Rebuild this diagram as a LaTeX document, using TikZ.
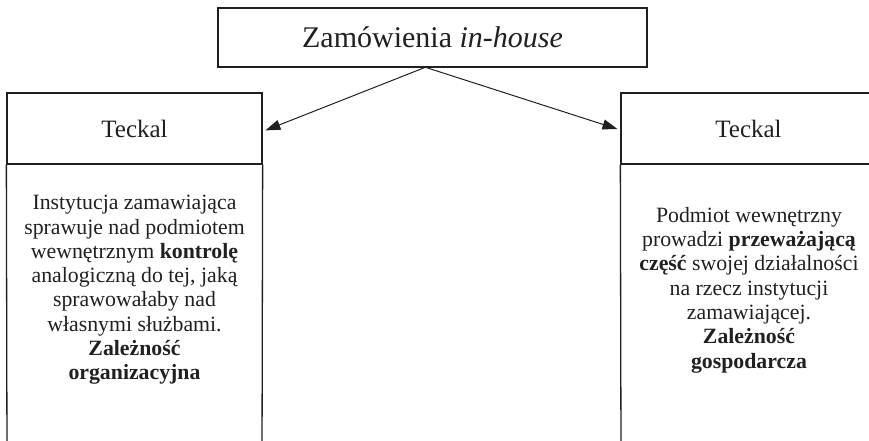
\documentclass[tikz,border=0pt]{standalone}
\usepackage{fontspec}
\setmainfont{Liberation Serif}
\usetikzlibrary{arrows.meta,calc}
\definecolor{ink}{HTML}{231F20}
\begin{document}
\begin{tikzpicture}[x=1pt,y=-1pt,
  boxline/.style={draw=ink,line width=1.3pt},
  topbox/.style={boxline,rectangle,minimum width=429pt,minimum height=59pt,inner sep=0pt,
    font=\fontsize{30}{34}\selectfont,text=ink},
  headbox/.style={boxline,rectangle,minimum width=255pt,minimum height=71pt,inner sep=0pt,
    font=\fontsize{25}{29}\selectfont,text=ink},
  bodytext/.style={align=center,inner sep=0pt,text=ink,
    font=\fontsize{21.8}{24.3}\selectfont},
  arrowline/.style={draw=ink,line width=1pt,-{Triangle[length=15pt,width=10pt]}}]
\useasboundingbox (0,0) rectangle (869,441);
\clip (0,0) rectangle (869,441);
\fill[white] (0,0) rectangle (869,441);

\node[topbox] (top) at (432.5,37.5) {Zamówienia \textit{in-house}};

\node[headbox] (lhead) at (134.5,128.5) {Teckal};
\node[headbox] (rhead) at (748.5,128.5) {Teckal};

\coordinate (lbot1) at (7,460);
\coordinate (lbot2) at (262,460);
\coordinate (rbot1) at (621,460);
\coordinate (rbot2) at (876,460);
\draw[boxline] (lhead.south west) -- (lbot1);
\draw[boxline] (lhead.south east) -- (lbot2);
\draw[boxline] (rhead.south west) -- (rbot1);
\draw[boxline] (rhead.south east) -- (rbot2);

\node[bodytext] (ltext) at (134.5,290) {Instytucja zamawiająca\\
sprawuje nad podmiotem\\
wewnętrznym \textbf{kontrolę}\\
analogiczną do tej, jaką\\
sprawowałaby nad\\
własnymi służbami.\\
\textbf{Zależność}\\
\textbf{organizacyjna}};

\node[bodytext] (rtext) at (749,290) {Podmiot wewnętrzny\\
prowadzi \textbf{przeważającą}\\
\textbf{część} swojej działalności\\
na rzecz instytucji\\
zamawiającej.\\
\textbf{Zależność}\\
\textbf{gospodarcza}};

\draw[arrowline,shorten >=3pt] ([xshift=-8pt]top.south) -- ([yshift=-3pt]lhead.east);
\draw[arrowline,shorten >=3pt] ([xshift=-6pt]top.south) -- ([yshift=-1.5pt]rhead.west);
\end{tikzpicture}
\end{document}
